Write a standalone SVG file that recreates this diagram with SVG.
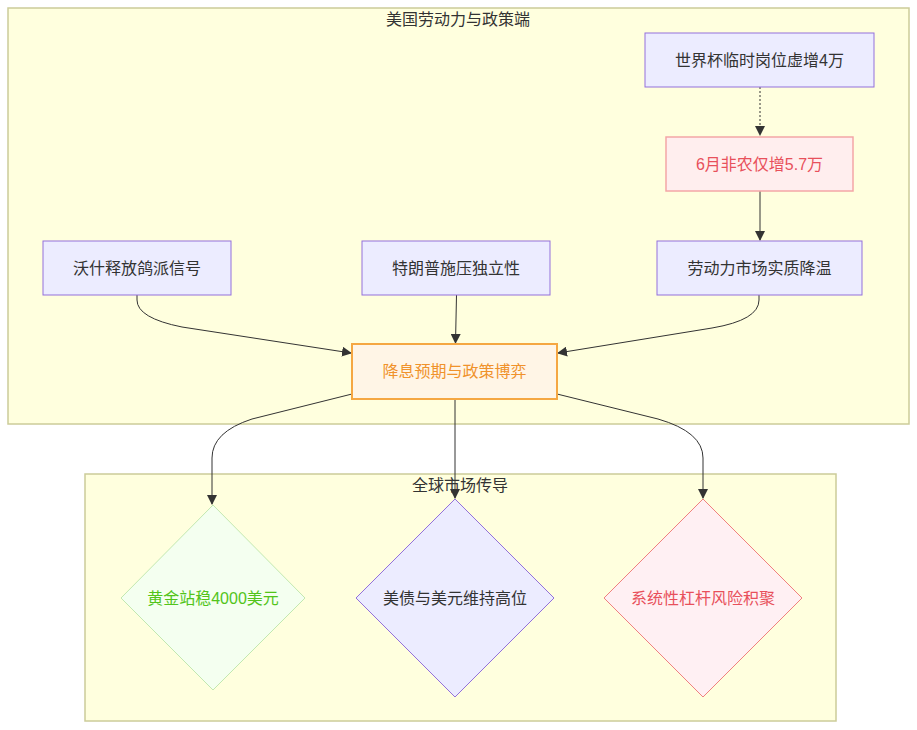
<svg xmlns="http://www.w3.org/2000/svg" width="917" height="730" viewBox="0 0 917 730">
<defs>
<style>
text{font-family:"Liberation Sans","Noto Sans CJK SC",sans-serif;font-size:16px;text-anchor:middle;dominant-baseline:central;fill:#333}
.cluster{fill:#ffffde;stroke:#cccc99;stroke-width:1.5}
.node{fill:#ececff;stroke:#9370db;stroke-width:1}
.edge{fill:none;stroke:#333;stroke-width:1}
</style>
<marker id="arr" viewBox="0 0 10 10" refX="9" refY="5" markerWidth="10" markerHeight="10" markerUnits="userSpaceOnUse" orient="auto">
<path d="M0,0 L10,5 L0,10 z" fill="#333"/>
</marker>
</defs>
<rect width="917" height="730" fill="#fff"/>
<g id="cluster-us">
<rect class="cluster" x="8" y="8" width="901" height="416"/>
<text x="458" y="19">美国劳动力与政策端</text>
</g>
<g id="cluster-global">
<rect class="cluster" x="85" y="474" width="751" height="247"/>
<text x="460" y="485">全球市场传导</text>
</g>
<g id="connectors">
<path class="edge" d="M760,87 L760,135" stroke-dasharray="2,2" marker-end="url(#arr)"/>
<path class="edge" d="M760,191 L760,240" marker-end="url(#arr)"/>
<path class="edge" d="M137,295 L137,300 Q137,318 182,327 L351,353" marker-end="url(#arr)"/>
<path class="edge" d="M456.5,295 L455.5,343" marker-end="url(#arr)"/>
<path class="edge" d="M759,295 L759,300 Q759,320 712,328 L558,353" marker-end="url(#arr)"/>
<path class="edge" d="M352,394 L252,419 Q212,432 212,458 L212,504" marker-end="url(#arr)"/>
<path class="edge" d="M455,399 L455,498" marker-end="url(#arr)"/>
<path class="edge" d="M557,394 L658,419 Q703,432 703,458 L703,498" marker-end="url(#arr)"/>
</g>
<g id="n-worldcup">
<rect class="node" x="645" y="33" width="229" height="54"/>
<text x="759.5" y="60">世界杯临时岗位虚增4万</text>
</g>
<g id="n-nfp">
<rect x="666" y="137" width="187" height="54" fill="#ffeeee" stroke="#f4a6a6" stroke-width="1.5"/>
<text x="759.5" y="164" style="fill:#e8505b">6月非农仅增5.7万</text>
</g>
<g id="n-warsh">
<rect class="node" x="43" y="241" width="188" height="54"/>
<text x="137" y="268">沃什释放鸽派信号</text>
</g>
<g id="n-trump">
<rect class="node" x="362" y="241" width="188" height="54"/>
<text x="456" y="268">特朗普施压独立性</text>
</g>
<g id="n-labor">
<rect class="node" x="657" y="241" width="205" height="54"/>
<text x="759.5" y="268">劳动力市场实质降温</text>
</g>
<g id="n-rate">
<rect x="352" y="344" width="205" height="55" fill="#fff5e6" stroke="#f5a742" stroke-width="2"/>
<text x="454.5" y="371.5" style="fill:#f0922b">降息预期与政策博弈</text>
</g>
<g id="n-gold">
<polygon points="213,505 305,598 213,690 121,598" fill="#f4fff0" stroke="#c2e8b0" stroke-width="1"/>
<text x="213" y="598" style="fill:#52c41a">黄金站稳4000美元</text>
</g>
<g id="n-bond">
<polygon points="455,499 554,598 455,697 356,598" class="node"/>
<text x="455" y="598">美债与美元维持高位</text>
</g>
<g id="n-risk">
<polygon points="703,499 802,598 703,697 604,598" fill="#fff0f3" stroke="#f08080" stroke-width="1"/>
<text x="703" y="598" style="fill:#e8505b">系统性杠杆风险积聚</text>
</g>
</svg>
